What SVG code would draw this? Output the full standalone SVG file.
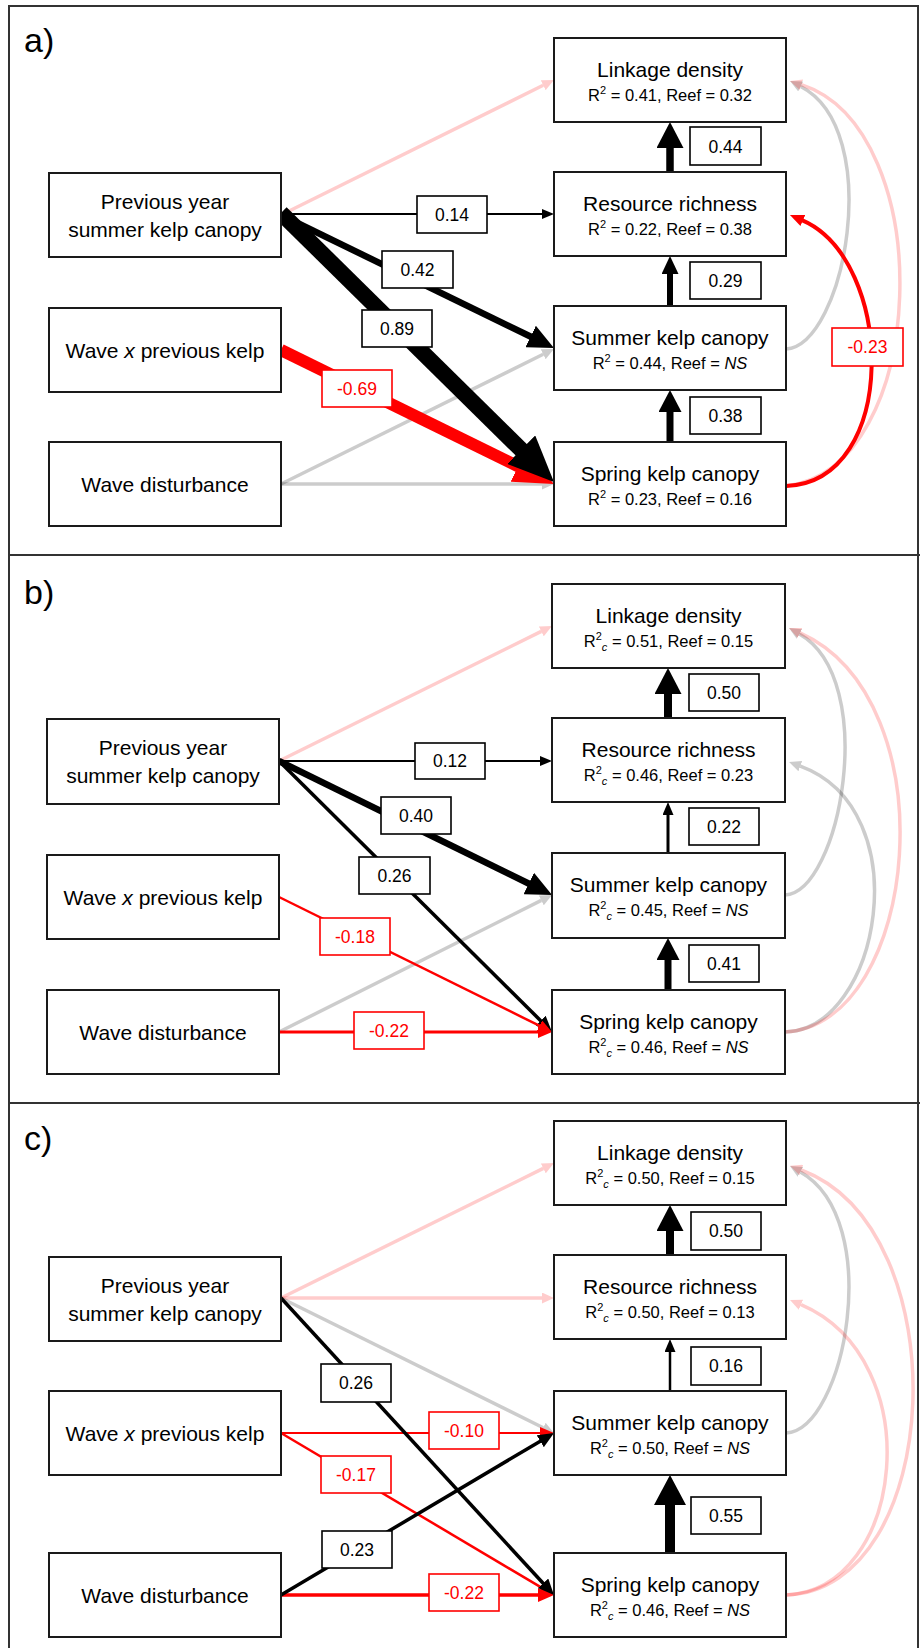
<svg xmlns="http://www.w3.org/2000/svg" width="920" height="1648" viewBox="0 0 920 1648">
<style>
.box{fill:#fff;stroke:#1a1a1a;stroke-width:2}
.lbl{fill:#fff;stroke:#000;stroke-width:1.6}
.lblr{fill:#fff;stroke:#f00;stroke-width:1.6}
.t{font-family:"Liberation Sans",Arial,sans-serif;font-size:21px;text-anchor:middle;fill:#000}
.s{font-size:16.5px}
.n{font-size:17.5px}
.nr{fill:#f00}
.pl{font-family:"Liberation Sans",Arial,sans-serif;font-size:34px;fill:#000}
.blk{stroke:#000;fill:none}
.red{stroke:#f00;fill:none}
.gry{stroke:#000;stroke-opacity:.2;fill:none;stroke-width:3.5}
.pnk{stroke:#f00;stroke-opacity:.2;fill:none;stroke-width:3.5}
.frame{fill:none;stroke:#333;stroke-width:2}
</style>
<defs>
<marker id="bk12" markerUnits="userSpaceOnUse" markerWidth="12" markerHeight="10" viewBox="0 0 12 10" refX="1" refY="5" orient="auto"><path d="M0,0L12,5L0,10Z" fill="#000"/></marker>
<marker id="bk16" markerUnits="userSpaceOnUse" markerWidth="16" markerHeight="14" viewBox="0 0 16 14" refX="1" refY="7" orient="auto"><path d="M0,0L16,7L0,14Z" fill="#000"/></marker>
<marker id="bk26" markerUnits="userSpaceOnUse" markerWidth="26" markerHeight="24" viewBox="0 0 26 24" refX="1" refY="12" orient="auto"><path d="M0,0L26,12L0,24Z" fill="#000"/></marker>
<marker id="bk46" markerUnits="userSpaceOnUse" markerWidth="46" markerHeight="40" viewBox="0 0 46 40" refX="1" refY="20" orient="auto"><path d="M0,0L46,20L0,40Z" fill="#000"/></marker>
<marker id="v13" markerUnits="userSpaceOnUse" markerWidth="13" markerHeight="11" viewBox="0 0 13 11" refX="1" refY="5.5" orient="auto"><path d="M0,0L13,5.5L0,11Z" fill="#000"/></marker>
<marker id="v18" markerUnits="userSpaceOnUse" markerWidth="18" markerHeight="17" viewBox="0 0 18 17" refX="1" refY="8.5" orient="auto"><path d="M0,0L18,8.5L0,17Z" fill="#000"/></marker>
<marker id="v22" markerUnits="userSpaceOnUse" markerWidth="22" markerHeight="23" viewBox="0 0 22 23" refX="1" refY="11.5" orient="auto"><path d="M0,0L22,11.5L0,23Z" fill="#000"/></marker>
<marker id="v26" markerUnits="userSpaceOnUse" markerWidth="26" markerHeight="27" viewBox="0 0 26 27" refX="1" refY="13.5" orient="auto"><path d="M0,0L26,13.5L0,27Z" fill="#000"/></marker>
<marker id="v30" markerUnits="userSpaceOnUse" markerWidth="30" markerHeight="32" viewBox="0 0 30 32" refX="1" refY="16" orient="auto"><path d="M0,0L30,16L0,32Z" fill="#000"/></marker>
<marker id="rd14" markerUnits="userSpaceOnUse" markerWidth="14" markerHeight="12" viewBox="0 0 14 12" refX="1" refY="6" orient="auto"><path d="M0,0L14,6L0,12Z" fill="#f00"/></marker>
<marker id="rd16" markerUnits="userSpaceOnUse" markerWidth="16" markerHeight="14" viewBox="0 0 16 14" refX="1" refY="7" orient="auto"><path d="M0,0L16,7L0,14Z" fill="#f00"/></marker>
<marker id="rd40" markerUnits="userSpaceOnUse" markerWidth="40" markerHeight="34" viewBox="0 0 40 34" refX="1" refY="17" orient="auto"><path d="M0,0L40,17L0,34Z" fill="#f00"/></marker>
<marker id="gy" markerUnits="userSpaceOnUse" markerWidth="12" markerHeight="11" viewBox="0 0 12 11" refX="0" refY="5.5" orient="auto"><path d="M0,0L12,5.5L0,11Z" fill="#000" fill-opacity="0.2"/></marker>
<marker id="pk" markerUnits="userSpaceOnUse" markerWidth="12" markerHeight="11" viewBox="0 0 12 11" refX="0" refY="5.5" orient="auto"><path d="M0,0L12,5.5L0,11Z" fill="#f00" fill-opacity="0.2"/></marker>
</defs>
<rect width="920" height="1648" fill="#fff"/>
<g id="frame">
<rect class="frame" x="9" y="6" width="909" height="1650"/>
<line class="frame" x1="9" y1="555" x2="920" y2="555"/>
<line class="frame" x1="9" y1="1103" x2="920" y2="1103"/>
<text class="pl" x="24" y="52">a)</text>
<text class="pl" x="24" y="604">b)</text>
<text class="pl" x="24" y="1150">c)</text>
</g>
<g id="connectors">
<!-- panel a -->
<path class="gry" d="M281,484L543.2,354.3" marker-end="url(#gy)"/>
<path class="gry" d="M281,484L542,484" marker-end="url(#gy)"/>
<path class="pnk" d="M281,215L543.2,85.3" marker-end="url(#pk)"/>
<path class="gry" d="M786,349C845,345 885,130 800.7,86.5" marker-end="url(#gy)"/>
<path class="pnk" d="M786,486C930,470 940,130 801.4,84.7" marker-end="url(#pk)"/>
<path class="red" stroke-width="4" d="M786,486C900,482 895,260 801.9,220.1" marker-end="url(#rd14)"/>
<path class="red" stroke-width="12" d="M281,350L519,466.8" marker-end="url(#rd40)"/>
<path class="blk" stroke-width="2" d="M281,214L543,214" marker-end="url(#bk12)"/>
<path class="blk" stroke-width="6.5" d="M281,215L531.5,337" marker-end="url(#bk26)"/>
<path class="blk" stroke-width="16" d="M281,213L521.9,450.4" marker-end="url(#bk46)"/>
<path class="blk" stroke-width="7.5" d="M670,172L670,147" marker-end="url(#v26)"/>
<path class="blk" stroke-width="6" d="M670,306L670,273" marker-end="url(#v18)"/>
<path class="blk" stroke-width="7" d="M670,442L670,411" marker-end="url(#v22)"/>
<!-- panel b -->
<path class="pnk" d="M279,761L541.3,631.4" marker-end="url(#pk)"/>
<path class="gry" d="M279,1032L541.3,900.4" marker-end="url(#gy)"/>
<path class="gry" d="M785,895C840,893 880,680 799.4,634" marker-end="url(#gy)"/>
<path class="gry" d="M785,1032C880,1030 920,810 800.3,766.1" marker-end="url(#gy)"/>
<path class="pnk" d="M785,1032C920,1025 950,700 800,632.9" marker-end="url(#pk)"/>
<path class="blk" stroke-width="2" d="M279,761L541,761" marker-end="url(#bk12)"/>
<path class="blk" stroke-width="6.5" d="M279,761L529.6,884" marker-end="url(#bk26)"/>
<path class="blk" stroke-width="3.5" d="M279,761L541.4,1021.4" marker-end="url(#bk16)"/>
<path class="red" stroke-width="2.5" d="M279,897L540.3,1026.2" marker-end="url(#rd14)"/>
<path class="red" stroke-width="3" d="M279,1032L539,1032" marker-end="url(#rd14)"/>
<path class="blk" stroke-width="8" d="M668,718L668,693" marker-end="url(#v26)"/>
<path class="blk" stroke-width="3" d="M668,853L668,814" marker-end="url(#v13)"/>
<path class="blk" stroke-width="7" d="M668,990L668,959" marker-end="url(#v22)"/>
<!-- panel c -->
<path class="pnk" d="M281,1298L543.3,1168.4" marker-end="url(#pk)"/>
<path class="pnk" d="M281,1298L542,1298" marker-end="url(#pk)"/>
<path class="gry" d="M281,1298L543.2,1427.7" marker-end="url(#gy)"/>
<path class="gry" d="M786,1433C845,1430 885,1220 800.4,1171.9" marker-end="url(#gy)"/>
<path class="pnk" d="M786,1595C905,1590 930,1360 801,1304.7" marker-end="url(#pk)"/>
<path class="pnk" d="M786,1595C945,1590 960,1230 801.3,1170" marker-end="url(#pk)"/>
<path class="red" stroke-width="2" d="M281,1433L541,1433" marker-end="url(#rd14)"/>
<path class="red" stroke-width="2.5" d="M281,1433L542.8,1588.4" marker-end="url(#rd14)"/>
<path class="red" stroke-width="3.5" d="M281,1595L539,1595" marker-end="url(#rd16)"/>
<path class="blk" stroke-width="3.5" d="M281,1298L543.8,1584" marker-end="url(#bk16)"/>
<path class="blk" stroke-width="3.5" d="M281,1595L541.1,1440.7" marker-end="url(#bk16)"/>
<path class="blk" stroke-width="8" d="M670,1255L670,1230" marker-end="url(#v26)"/>
<path class="blk" stroke-width="2.5" d="M670,1391L670,1351" marker-end="url(#v13)"/>
<path class="blk" stroke-width="10" d="M670,1553L670,1504" marker-end="url(#v30)"/>
</g>
<g id="edge-labels">
<rect class="lbl" x="417" y="196" width="70" height="37"/><text class="t n" x="452" y="221">0.14</text>
<rect class="lbl" x="382" y="251" width="71" height="37"/><text class="t n" x="417.5" y="276">0.42</text>
<rect class="lbl" x="362" y="310" width="70" height="37"/><text class="t n" x="397" y="335">0.89</text>
<rect class="lblr" x="322" y="370" width="70" height="37"/><text class="t n nr" x="357" y="395">-0.69</text>
<rect class="lbl" x="690" y="127" width="71" height="38"/><text class="t n" x="725.5" y="152.5">0.44</text>
<rect class="lbl" x="690" y="262" width="71" height="37"/><text class="t n" x="725.5" y="287">0.29</text>
<rect class="lbl" x="690" y="397" width="71" height="37"/><text class="t n" x="725.5" y="422">0.38</text>
<rect class="lblr" x="832" y="328" width="71" height="38"/><text class="t n nr" x="867.5" y="353">-0.23</text>
<rect class="lbl" x="415" y="743" width="70" height="36"/><text class="t n" x="450" y="767">0.12</text>
<rect class="lbl" x="381" y="797" width="70" height="37"/><text class="t n" x="416" y="822">0.40</text>
<rect class="lbl" x="359" y="857" width="71" height="37"/><text class="t n" x="394.5" y="882">0.26</text>
<rect class="lblr" x="320" y="918" width="70" height="37"/><text class="t n nr" x="355" y="943">-0.18</text>
<rect class="lblr" x="354" y="1012" width="70" height="37"/><text class="t n nr" x="389" y="1037">-0.22</text>
<rect class="lbl" x="689" y="674" width="70" height="37"/><text class="t n" x="724" y="699">0.50</text>
<rect class="lbl" x="689" y="808" width="70" height="37"/><text class="t n" x="724" y="833">0.22</text>
<rect class="lbl" x="689" y="945" width="70" height="37"/><text class="t n" x="724" y="970">0.41</text>
<rect class="lbl" x="321" y="1364" width="70" height="38"/><text class="t n" x="356" y="1389">0.26</text>
<rect class="lblr" x="429" y="1412" width="70" height="37"/><text class="t n nr" x="464" y="1437">-0.10</text>
<rect class="lblr" x="321" y="1456" width="70" height="37"/><text class="t n nr" x="356" y="1481">-0.17</text>
<rect class="lbl" x="322" y="1531" width="70" height="37"/><text class="t n" x="357" y="1556">0.23</text>
<rect class="lblr" x="429" y="1574" width="70" height="37"/><text class="t n nr" x="464" y="1599">-0.22</text>
<rect class="lbl" x="691" y="1212" width="70" height="38"/><text class="t n" x="726" y="1237">0.50</text>
<rect class="lbl" x="691" y="1347" width="70" height="38"/><text class="t n" x="726" y="1372">0.16</text>
<rect class="lbl" x="691" y="1497" width="70" height="37"/><text class="t n" x="726" y="1522">0.55</text>
</g>
<!-- panel a nodes -->
<g id="a-prev"><rect class="box" x="49" y="173" width="232" height="84"/><text class="t" x="165" y="209">Previous year</text><text class="t" x="165" y="237">summer kelp canopy</text></g>
<g id="a-wavex"><rect class="box" x="49" y="308" width="232" height="84"/><text class="t" x="165" y="358">Wave <tspan font-style="italic">x</tspan> previous kelp</text></g>
<g id="a-wave"><rect class="box" x="49" y="442" width="232" height="84"/><text class="t" x="165" y="492">Wave disturbance</text></g>
<g id="a-link"><rect class="box" x="554" y="38" width="232" height="84"/><text class="t" x="670" y="77">Linkage density</text><text class="t s" x="670" y="101">R<tspan dy="-7" font-size="11">2</tspan><tspan dy="7"> = 0.41, Reef = 0.32</tspan></text></g>
<g id="a-res"><rect class="box" x="554" y="172" width="232" height="84"/><text class="t" x="670" y="211">Resource richness</text><text class="t s" x="670" y="235">R<tspan dy="-7" font-size="11">2</tspan><tspan dy="7"> = 0.22, Reef = 0.38</tspan></text></g>
<g id="a-sum"><rect class="box" x="554" y="306" width="232" height="84"/><text class="t" x="670" y="345">Summer kelp canopy</text><text class="t s" x="670" y="369">R<tspan dy="-7" font-size="11">2</tspan><tspan dy="7"> = 0.44, Reef = </tspan><tspan font-style="italic">NS</tspan></text></g>
<g id="a-spr"><rect class="box" x="554" y="442" width="232" height="84"/><text class="t" x="670" y="481">Spring kelp canopy</text><text class="t s" x="670" y="505">R<tspan dy="-7" font-size="11">2</tspan><tspan dy="7"> = 0.23, Reef = 0.16</tspan></text></g>
<!-- panel b nodes -->
<g id="b-prev"><rect class="box" x="47" y="719" width="232" height="85"/><text class="t" x="163" y="755">Previous year</text><text class="t" x="163" y="783">summer kelp canopy</text></g>
<g id="b-wavex"><rect class="box" x="47" y="855" width="232" height="84"/><text class="t" x="163" y="905">Wave <tspan font-style="italic">x</tspan> previous kelp</text></g>
<g id="b-wave"><rect class="box" x="47" y="990" width="232" height="84"/><text class="t" x="163" y="1040">Wave disturbance</text></g>
<g id="b-link"><rect class="box" x="552" y="584" width="233" height="84"/><text class="t" x="668.5" y="623">Linkage density</text><text class="t s" x="668.5" y="647">R<tspan dy="-7" font-size="11">2</tspan><tspan dy="11" font-size="11" font-style="italic">c</tspan><tspan dy="-4"> = 0.51, Reef = 0.15</tspan></text></g>
<g id="b-res"><rect class="box" x="552" y="718" width="233" height="84"/><text class="t" x="668.5" y="757">Resource richness</text><text class="t s" x="668.5" y="781">R<tspan dy="-7" font-size="11">2</tspan><tspan dy="11" font-size="11" font-style="italic">c</tspan><tspan dy="-4"> = 0.46, Reef = 0.23</tspan></text></g>
<g id="b-sum"><rect class="box" x="552" y="853" width="233" height="85"/><text class="t" x="668.5" y="892">Summer kelp canopy</text><text class="t s" x="668.5" y="916">R<tspan dy="-7" font-size="11">2</tspan><tspan dy="11" font-size="11" font-style="italic">c</tspan><tspan dy="-4"> = 0.45, Reef = </tspan><tspan font-style="italic">NS</tspan></text></g>
<g id="b-spr"><rect class="box" x="552" y="990" width="233" height="84"/><text class="t" x="668.5" y="1029">Spring kelp canopy</text><text class="t s" x="668.5" y="1053">R<tspan dy="-7" font-size="11">2</tspan><tspan dy="11" font-size="11" font-style="italic">c</tspan><tspan dy="-4"> = 0.46, Reef = </tspan><tspan font-style="italic">NS</tspan></text></g>
<!-- panel c nodes -->
<g id="c-prev"><rect class="box" x="49" y="1257" width="232" height="84"/><text class="t" x="165" y="1293">Previous year</text><text class="t" x="165" y="1321">summer kelp canopy</text></g>
<g id="c-wavex"><rect class="box" x="49" y="1391" width="232" height="84"/><text class="t" x="165" y="1441">Wave <tspan font-style="italic">x</tspan> previous kelp</text></g>
<g id="c-wave"><rect class="box" x="49" y="1553" width="232" height="84"/><text class="t" x="165" y="1603">Wave disturbance</text></g>
<g id="c-link"><rect class="box" x="554" y="1121" width="232" height="84"/><text class="t" x="670" y="1160">Linkage density</text><text class="t s" x="670" y="1184">R<tspan dy="-7" font-size="11">2</tspan><tspan dy="11" font-size="11" font-style="italic">c</tspan><tspan dy="-4"> = 0.50, Reef = 0.15</tspan></text></g>
<g id="c-res"><rect class="box" x="554" y="1255" width="232" height="84"/><text class="t" x="670" y="1294">Resource richness</text><text class="t s" x="670" y="1318">R<tspan dy="-7" font-size="11">2</tspan><tspan dy="11" font-size="11" font-style="italic">c</tspan><tspan dy="-4"> = 0.50, Reef = 0.13</tspan></text></g>
<g id="c-sum"><rect class="box" x="554" y="1391" width="232" height="84"/><text class="t" x="670" y="1430">Summer kelp canopy</text><text class="t s" x="670" y="1454">R<tspan dy="-7" font-size="11">2</tspan><tspan dy="11" font-size="11" font-style="italic">c</tspan><tspan dy="-4"> = 0.50, Reef = </tspan><tspan font-style="italic">NS</tspan></text></g>
<g id="c-spr"><rect class="box" x="554" y="1553" width="232" height="84"/><text class="t" x="670" y="1592">Spring kelp canopy</text><text class="t s" x="670" y="1616">R<tspan dy="-7" font-size="11">2</tspan><tspan dy="11" font-size="11" font-style="italic">c</tspan><tspan dy="-4"> = 0.46, Reef = </tspan><tspan font-style="italic">NS</tspan></text></g>
</svg>
